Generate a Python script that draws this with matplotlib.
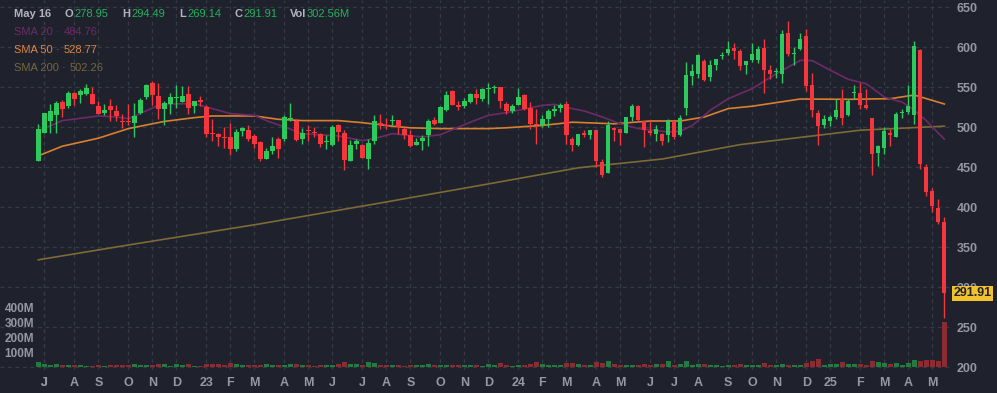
import matplotlib
matplotlib.use("Agg")
import matplotlib.pyplot as plt
import numpy as np
import pandas as pd

plt.rcParams['font.family'] = ['Liberation Sans', 'DejaVu Sans']

# weekly candles, week ending fridays
dates = pd.date_range('2022-06-24', periods=152, freq='W-FRI')

opens = [458, 493, 508, 515, 531, 526, 543, 540, 541, 541.7,
         526.7, 517.5, 526, 519.6, 508, 508, 505.4, 518, 538, 555.4,
         538.7, 523, 529, 536.7, 531.7, 541.7, 526, 534, 525.4, 493,
         491.7, 487, 487.5, 473, 494.6, 496.7, 489, 481, 459.6, 470.4,
         485.4, 485.4, 510.4, 508, 484.6, 496, 493, 491.7, 481, 477,
         502, 493, 457, 479, 478, 460.4, 482, 505.4, 503, 507.5,
         509, 498, 490.4, 478, 483, 489.6, 509, 505.4, 521, 544.6,
         528, 526, 531, 541.7, 534.6, 547.5, 549, 550.4, 529, 520,
         527, 540.4, 523.8, 504, 503, 510.4, 519.6, 523.8, 529, 484.6,
         478, 493, 490.4, 496, 456, 443, 499, 497, 493, 513,
         526, 507, 494.6, 491.7, 491.7, 489.6, 507, 489.6, 524, 563.8,
         566.7, 583, 563, 578, 589, 593, 599, 595, 577, 584,
         584, 599, 571, 568.3, 566.7, 618, 591, 598, 613.8, 553,
         518, 502, 507, 513, 534.6, 514.6, 542.5, 542.5, 528, 511.7,
         467, 474, 493, 488, 517, 518.8, 514.6, 595.8, 450, 420,
         398.8, 381.3]
highs = [504, 518, 529, 532, 534, 544.6, 544, 547, 554, 549.6,
         533, 529, 535, 528, 516.7, 529, 530, 536, 554, 557.5,
         555.4, 532.5, 542, 553, 551, 551, 532, 539, 527, 510,
         493, 500, 505.4, 497, 500, 502, 491.7, 483, 474, 487,
         487, 514.6, 530, 510, 499, 502, 500, 493, 489.6, 502,
         504, 496, 484, 485.4, 479, 485.4, 515, 516.7, 511.7, 514.6,
         509, 500, 496, 486, 490.4, 510.4, 513, 526, 545, 546,
         532.5, 536.7, 543, 547, 549, 555.4, 553, 550.4, 531, 529,
         549, 541.7, 531, 523, 515.4, 523, 528, 530.4, 533, 487.5,
         491.7, 496.7, 496, 496, 460.4, 508, 500, 497, 513, 529,
         527, 507, 509, 502, 493, 510.4, 507, 515.4, 581, 579,
         591.7, 585.4, 584, 585.4, 593.8, 607.5, 605.4, 597, 582, 605.4,
         601, 609.6, 578, 573.8, 621, 632, 600, 618, 623, 567.5,
         521, 514.6, 515.4, 535.4, 548, 534.6, 553, 555, 548, 511.7,
         477, 500, 498, 518.8, 523, 552, 607, 597, 454, 423.8,
         410.4, 387.5]
lows = [458, 492, 493, 493, 512, 524, 528, 530, 540, 529,
        516.7, 515, 507, 507, 499, 502, 488, 516.7, 535, 528,
        510.4, 502, 516, 524, 531.7, 516.7, 518, 526, 488, 483,
        476, 474, 464.6, 469.6, 489, 482, 474, 458, 459.6, 466.7,
        461.7, 483, 508, 483, 479, 483, 487.5, 475, 473, 476,
        482, 446.7, 457, 473, 461.7, 448, 479, 498, 498, 502,
        491.7, 485.4, 475, 477.5, 471, 476, 502, 504.6, 519.6, 528,
        521, 524, 530, 529, 532, 529, 542.5, 523.8, 516.7, 518,
        527, 521, 498, 479, 500, 500, 513.8, 518.8, 479, 470,
        476, 487.5, 484.6, 450, 437, 443, 482, 478, 493, 508,
        508, 474.6, 490.4, 483, 478, 481, 485, 489, 515, 553,
        561, 558, 558, 571, 584.6, 590.4, 584.6, 571, 566.7, 581,
        580, 543, 560, 561.7, 555.4, 588.8, 577, 596, 545, 512.5,
        477, 499, 501, 510.4, 503, 513.8, 535.4, 523, 523, 439.6,
        451, 466, 476, 487.5, 511.7, 516.7, 504, 448, 413.8, 393.8,
        379, 261.3]
closes = [497, 518, 519.6, 530, 522, 543, 535, 544.6, 549, 529,
          516.7, 521, 521.7, 514, 506.7, 506.5, 514, 534, 552, 539.6,
          523, 530.4, 538, 537.5, 539, 524, 532, 531, 491, 491,
          487, 486, 473, 494, 499, 484.6, 479, 460, 470, 476,
          473, 513, 511, 484, 493, 495, 492, 479, 482, 500,
          494, 459, 478, 482, 461.7, 480.4, 507, 502, 501, 508,
          500, 489.6, 476, 481, 486.7, 507, 504, 525, 540.4, 528,
          525, 532, 541.7, 536, 548, 548, 550, 532, 520, 526.7,
          538, 522, 504, 503, 510.4, 519.6, 522, 528, 490.4, 477,
          491.7, 490.4, 496, 457, 439.6, 502, 496, 493, 513, 526,
          509, 496, 493, 498, 483, 509, 488, 511, 565, 570,
          590.4, 559, 578, 585.4, 590.4, 598, 594.6, 575.8, 582, 591.7,
          598, 571, 566, 569.6, 616.7, 591.7, 592, 610.4, 550.8, 521,
          500.8, 510.4, 513, 521.7, 511.3, 533, 543, 528, 524, 466.7,
          476, 494.6, 489.6, 516.7, 517.5, 525.8, 600.8, 454, 419, 400.8,
          381, 291.91]
# volume in millions
volumes = [34, 20, 13, 20, 13, 13, 13, 13, 9, 7,
           13, 7, 13, 13, 13, 13, 20, 13, 13, 13,
           20, 20, 7, 20, 13, 20, 7, 7, 20, 20,
           20, 13, 27, 20, 13, 13, 13, 13, 20, 13,
           13, 13, 20, 20, 13, 13, 7, 13, 13, 13,
           20, 34, 20, 20, 13, 34, 27, 13, 13, 13,
           13, 7, 13, 13, 13, 20, 13, 13, 13, 13,
           13, 13, 13, 13, 5, 20, 13, 24, 13, 7,
           13, 13, 20, 34, 20, 13, 13, 13, 27, 27,
           20, 13, 13, 34, 27, 40, 20, 13, 13, 13,
           13, 20, 13, 20, 20, 40, 13, 20, 40, 13,
           20, 20, 13, 13, 7, 13, 13, 20, 13, 13,
           13, 27, 13, 13, 20, 13, 13, 13, 27, 40,
           54, 13, 20, 20, 34, 20, 20, 20, 13, 40,
           34, 27, 20, 27, 13, 27, 47, 40, 47, 47,
           40, 302.56]

# moving averages (week index, value)
sma20_idx = [0, 4, 10, 13, 15, 20, 23, 26, 29, 32, 36, 38, 41, 44, 50, 54, 56, 59,
             64, 67, 72, 75, 78, 84, 86, 89, 91, 94, 97, 100, 105, 107, 109, 112,
             115, 119, 123, 127, 129, 132, 135, 138, 141, 144, 146, 148, 151]
sma20_val = [495, 508, 513.8, 512.5, 510.4, 527, 529, 529, 523, 516.7, 514.6, 508, 500,
             491.7, 488.8, 483, 485.4, 491.7, 487.5, 490.4, 506, 514.6, 518, 527, 528.3,
             523, 520, 512.5, 504, 498, 493.8, 494.6, 502, 521, 535.4, 548, 566.7, 583.3,
             583, 571, 559.6, 554, 537.5, 531, 521, 508, 484.76]
sma50_idx = [0, 4, 10, 15, 21, 26, 29, 36, 40, 44, 50, 54, 59, 62, 67, 75, 78, 84,
             89, 96, 102, 107, 111, 115, 119, 127, 135, 142, 146, 151]
sma50_val = [464, 476, 486, 498, 507, 511.7, 513.8, 513.8, 509.6, 508, 508, 505.4,
             501, 499, 498, 498, 499, 502, 506, 504, 507.5, 507.5, 512.5, 523, 526,
             535, 534.6, 535.4, 540, 528.77]
sma200_idx = [0, 15, 37, 57, 74, 90, 104, 117, 127, 137, 147, 151]
sma200_val = [334, 352.5, 379, 405, 427.5, 449, 460, 478, 487, 496, 499.6, 501]

bg = '#1f222d'
up = '#2ec95c'
down = '#f5363d'
up_vol = '#237c3f'
down_vol = '#8c2b32'
txt = '#9598a1'

fig = plt.figure(figsize=(9.97, 3.93), dpi=100, facecolor=bg)
ax = fig.add_axes([0, 23 / 393, 950 / 997, 370 / 393])
ax.set_facecolor(bg)

x = np.arange(len(dates))
o = np.array(opens)
h = np.array(highs)
l = np.array(lows)
c = np.array(closes)
rising = c >= o
cols = np.where(rising, up, down)

ax.vlines(x, l, h, color=cols, linewidth=1, zorder=3)
body_lo = np.minimum(o, c)
body_h = np.maximum(np.abs(c - o), 1.2)
ax.bar(x, body_h, bottom=body_lo, width=0.72, color=cols, linewidth=0, zorder=4)

ax.plot(sma200_idx, sma200_val, color='#7d6a35', linewidth=1.2, zorder=2)
ax.plot(sma50_idx, sma50_val, color='#d9802f', linewidth=1.2, zorder=2)
ax.plot(sma20_idx, sma20_val, color='#6e2a67', linewidth=1.2, zorder=2)

ax.set_xlim(-6.4, 151.95)
ax.set_ylim(196.25, 658.75)

# month ticks
tick_pos = []
tick_lab = []
prev = None
for i, d in enumerate(dates):
    if d.month != prev:
        if prev is not None:
            tick_pos.append(i)
            tick_lab.append(d.strftime('%y') if d.month == 1 else d.strftime('%b')[0])
        prev = d.month
tick_pos.insert(0, 1)
tick_lab.insert(0, 'J')
ax.set_xticks(tick_pos)
ax.set_xticklabels(tick_lab)
ax.set_yticks(np.arange(200, 651, 50))
ax.grid(True, color='#363a45', linestyle=(0, (3, 3)), linewidth=0.9)
for s in ax.spines.values():
    s.set_visible(False)

# volume
ax2 = ax.twinx()
ax2.bar(x, volumes, width=0.85, color=np.where(rising, up_vol, down_vol), linewidth=0)
ax2.set_ylim(-20, 2466)
ax2.yaxis.tick_left()
ax2.set_yticks([100, 200, 300, 400])
ax2.set_yticklabels(['100M', '200M', '300M', '400M'])
ax2.tick_params(axis='y', length=0, pad=-24.5, colors=txt, labelsize=8.5)
for lab in ax2.get_yticklabels():
    lab.set_fontweight('bold')
for s in ax2.spines.values():
    s.set_visible(False)

# price axis on the right (twinx moves it left, so set it afterwards)
ax.yaxis.tick_right()
ax.tick_params(axis='both', length=0, colors=txt, labelsize=9)
ax.tick_params(axis='y', pad=5)
ax.tick_params(axis='x', pad=5)
for lab in ax.get_xticklabels() + ax.get_yticklabels():
    lab.set_fontweight('bold')

# last price tag
ax.text(1.004, closes[-1], f'{closes[-1]:.2f}', transform=ax.get_yaxis_transform(),
        ha='left', va='center', fontsize=9, fontweight='bold', color='#1f222d',
        bbox=dict(boxstyle='square,pad=0.12', facecolor='#f2c12e', edgecolor='none'),
        zorder=10)

# header legend
def t(px, py, s, color, bold=False):
    fig.text(px / 997, 1 - py / 393, s, color=color, fontsize=8,
             fontweight='bold' if bold else 'normal', va='center', ha='left')

green = '#22b35a'
grey = '#b2b5be'
t(14, 14, 'May 16', grey, True)
t(64, 14, 'O', grey, True)
t(74, 14, '278.95', green)
t(122, 14, 'H', grey, True)
t(131, 14, '294.49', green)
t(179, 14, 'L', grey, True)
t(187, 14, '269.14', green)
t(234, 14, 'C', grey, True)
t(243, 14, '291.91', green)
t(290, 14, 'Vol', grey, True)
t(307, 14, '302.56M', green)
t(14, 32, 'SMA 20', '#6e2a67')
t(56, 32, '·', '#6e2a67')
t(64, 32, '484.76', '#6e2a67')
t(14, 50, 'SMA 50', '#e0853a')
t(56, 50, '·', '#e0853a')
t(64, 50, '528.77', '#e0853a')
t(14, 68, 'SMA 200', '#75673c')
t(62, 68, '·', '#75673c')
t(70, 68, '502.26', '#75673c')

fig.savefig('out.png', dpi=100, facecolor=bg)
